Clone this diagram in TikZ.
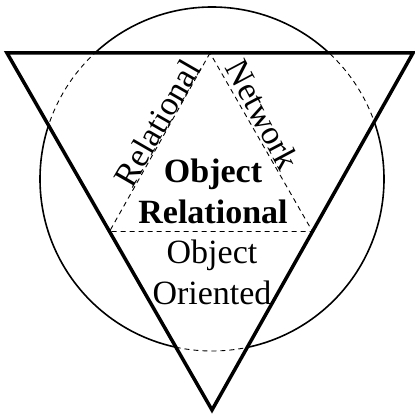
\documentclass[tikz,border=0pt]{standalone}
\usepackage{fontspec}
\setmainfont{Liberation Serif}
\usetikzlibrary{calc}
\begin{document}
\begin{tikzpicture}[x=1pt, y=1pt,
  thindash/.style={dash pattern=on 5pt off 4pt, line width=0.9pt},
  modeltext/.style={font=\fontsize{34}{41}\selectfont, inner sep=0pt, align=center}]
\useasboundingbox (0,0) rectangle (415,413);
% outer triangle and medial triangle
\coordinate (tl) at (7,360);
\coordinate (tr) at (413,360);
\coordinate (bt) at (212,3);
\coordinate (mt) at ($(tl)!0.5!(tr)$);
\coordinate (ml) at ($(tl)!0.5!(bt)$);
\coordinate (mr) at ($(tr)!0.5!(bt)$);
\coordinate (cc) at (212,234);
% circle: solid outside, dashed inside
\draw[line width=1.6pt] (cc) circle (172);
\fill[white] (tl) -- (tr) -- (bt) -- cycle;
\begin{scope}
\clip (tl) -- (tr) -- (bt) -- cycle;
\draw[thindash] (cc) circle (172);
\end{scope}
\draw[thindash] (mt) -- (ml) -- (mr) -- cycle;
\draw[line width=3.5pt, line join=miter] (tl) -- (tr) -- (bt) -- cycle;
% labels
\node[modeltext, rotate=60] (rel) at (157,290) {Relational};
\node[modeltext, rotate=-62] (net) at (263,298) {Network};
\node[modeltext, font=\fontsize{34}{41}\selectfont\bfseries] (objrel) at (213,222) {Object\\Relational};
\node[modeltext] (objori) at (212,141) {Object\\Oriented};
\end{tikzpicture}
\end{document}
